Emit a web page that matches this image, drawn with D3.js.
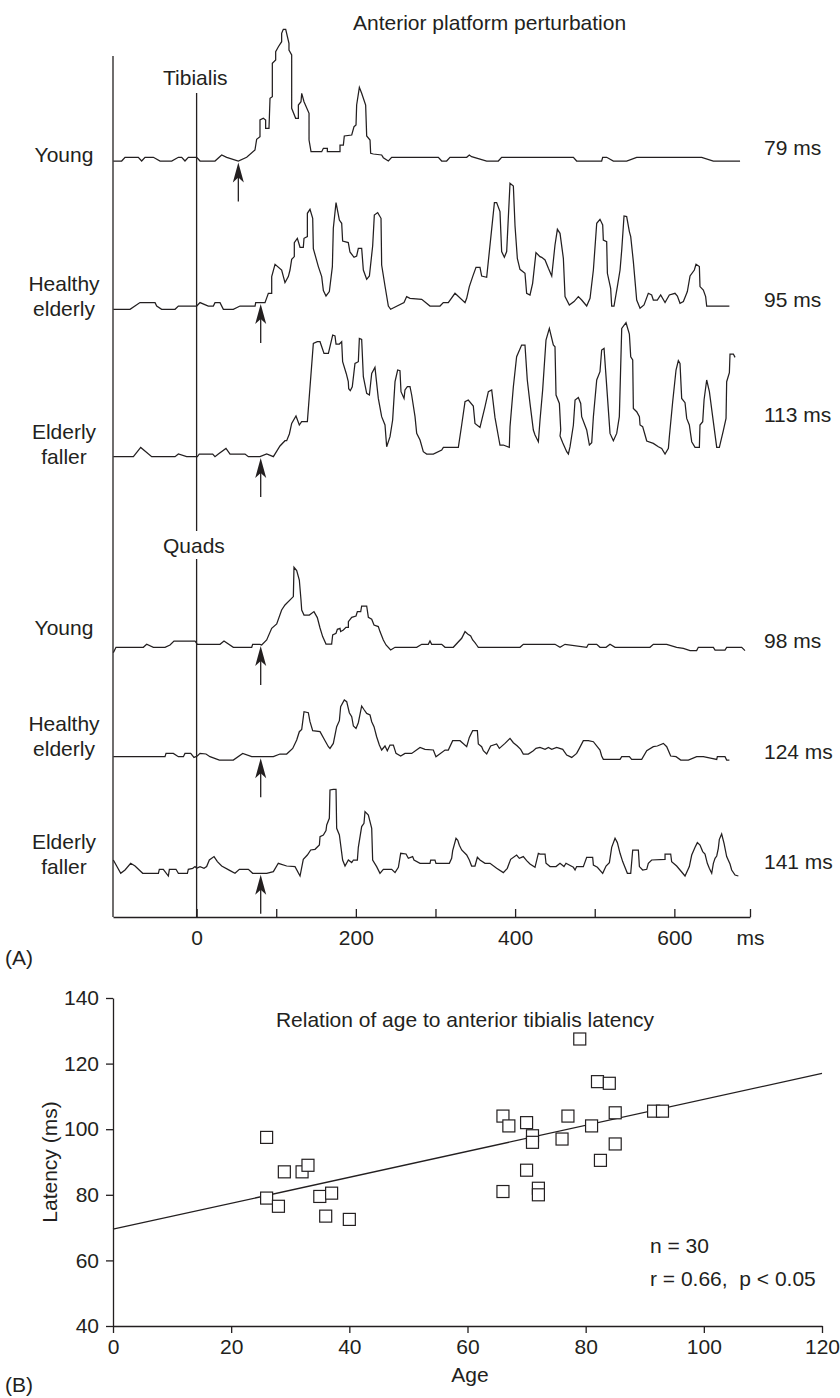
<!DOCTYPE html>
<html>
<head>
<meta charset="utf-8">
<script src="https://cdn.jsdelivr.net/npm/d3@7"></script>
<style>
  body { margin: 0; background: #fff; }
  text { font-family: "Liberation Sans", Arial, Helvetica, sans-serif; fill: #231f20; white-space: pre; }
</style>
</head>
<body>
<svg id="chart" width="840" height="1398"></svg>
<script>
// ---------- Panel A: rectified EMG after anterior platform perturbation ----------
// Each trace: [time (ms from perturbation), amplitude (arbitrary units)]
const tibYoung = [[-104.6,0],[-94.1,0],[-89.9,3.7],[-73.2,3.7],[-69.0,0],[-64.8,3.7],[-54.3,3.7],[-45.9,0],[-31.3,0],[-22.9,3.7],[-18.7,3.7],[-14.6,0],[-10.4,3.7],[0.1,3.7],[4.3,0],[23.1,0],[31.5,6],[37.8,3.7],[52.4,0],[62.9,3.7],[73.3,11],[75.4,21.7],[79.6,24.3],[79.6,41],[83.8,42.7],[86.7,41],[86.7,32.7],[90.9,32.7],[92.2,62.7],[95.1,64.3],[95.1,97.7],[99.3,101],[99.3,109.3],[102.7,114.3],[106.8,119.3],[106.8,127.7],[108.9,131.7],[111.9,131.7],[116.0,117.7],[116.0,111],[119.4,106],[119.4,52.7],[124.4,42.7],[127.8,42.7],[127.8,56],[131.1,59.3],[132.0,67.7],[134.9,59.3],[141.2,47.7],[141.2,21],[143.7,9.3],[157.1,9.3],[159.2,12.7],[164.2,12.7],[164.2,9.3],[180.1,9.3],[180.1,16],[184.3,16],[185.5,25],[194.8,26],[197.7,34.3],[200.2,36],[201.0,56],[204.4,73.7],[207.3,67.7],[212.3,56],[213.6,25],[217.8,21],[218.6,7.7],[222.0,7],[232.4,6],[234.5,3.3],[240.8,0],[245.0,3.7],[303.6,3.7],[307.8,0],[314.0,0],[318.2,3.7],[339.2,3.7],[342.5,6],[345.4,4.3],[364.3,0],[378.9,0],[383.1,3.7],[473.2,3.7],[477.3,0],[508.7,0],[510.0,3.7],[515.0,3.7],[523.4,0],[540.1,0],[552.7,3.7],[634.3,3.7],[649.0,0],[682.5,0]];

const tibHealthy = [[-104.6,0],[-83.6,0],[-71.1,6.7],[-52.2,6.7],[-50.1,3.3],[-43.9,0],[-27.1,0],[-22.9,3.3],[0.1,3.3],[4.3,6.7],[14.7,3.3],[21.0,3.3],[23.1,6.7],[29.4,6.7],[33.6,0],[46.1,0],[54.5,3.3],[73.4,3.3],[74.2,6.7],[85.9,6.7],[90.1,16],[94.3,16],[94.3,32.7],[98.5,45],[106.8,39.3],[111.0,26.7],[115.2,32.7],[117.3,39.3],[119.4,50],[122.7,52.7],[122.7,66.7],[126.5,71],[129.9,62],[134.0,62],[134.9,71],[139.1,72.7],[139.1,96],[142.4,100],[145.8,91],[146.6,60.7],[152.9,42.7],[157.1,32.7],[159.2,18.7],[162.5,13.3],[166.7,17.7],[170.5,42.7],[171.7,81],[175.1,106.7],[179.3,89.3],[182.2,86],[183.4,68.3],[190.5,66.7],[192.6,57.3],[197.7,52],[201.0,53.3],[203.1,61],[207.3,61],[209.4,39.3],[213.6,30],[217.0,33.3],[221.1,63.3],[223.2,94.3],[227.4,96.7],[231.6,91],[232.4,44.3],[236.6,23.3],[240.8,3.3],[243.7,0],[260.5,6.7],[263.8,12.7],[268.0,11],[282.7,10],[293.1,3.3],[305.7,3.3],[309.8,6.7],[316.1,6.7],[324.5,16],[337.1,6.7],[339.2,11],[342.5,22.7],[346.7,32.7],[350.9,42],[355.9,42],[358.0,33.3],[364.3,32],[374.0,106.7],[376.8,106.7],[381.0,97.7],[383.1,57.7],[386.5,52],[389.4,57.7],[393.6,126],[397.8,123.3],[399.9,83.3],[402.8,51],[406.1,40],[412.4,36],[414.5,16],[418.7,14.3],[422.0,26],[426.2,56.7],[431.2,52.7],[433.4,52],[437.6,49.3],[441.8,41],[446.0,33.3],[450.1,64.3],[453.1,80],[456.4,76],[460.6,51],[462.7,12.7],[468.1,4.3],[474.0,7.7],[479.4,12.7],[483.6,9.3],[489.9,3.3],[494.1,11],[498.3,39.3],[502.5,86],[506.6,90],[510.0,84.3],[510.8,69.3],[515.0,67.7],[515.9,36],[520.0,21],[521.3,3.3],[524.2,3.3],[528.4,22.7],[531.8,39.3],[533.9,59.3],[536.8,93.3],[540.1,92.7],[543.5,77.7],[545.2,72.7],[548.5,47.7],[552.7,9.3],[556.9,1],[561.9,4.3],[567.3,16],[571.5,14.3],[573.6,9.3],[578.6,9.3],[582.8,14.3],[588.3,6.7],[593.7,14.3],[600.8,16],[603.8,13.3],[607.1,6],[611.3,7.7],[614.6,14.3],[616.3,17.7],[619.7,33.3],[625.1,39.3],[627.2,45],[631.4,42.7],[632.2,22.7],[636.4,19.3],[639.3,12.7],[640.6,3.3],[669.1,3.3]];

const tibFaller = [[-104.6,0],[-79.4,0],[-70.2,9.3],[-56.4,0],[-27.1,0],[-22.9,2.7],[-12.5,0],[0.9,0],[3.4,2.7],[20.2,2.7],[23.1,0],[27.3,2.7],[36.9,8.3],[42.0,2.7],[60.8,2.7],[65.0,0],[79.6,0],[88.0,2.7],[96.4,0],[104.7,10.7],[111.0,16],[113.1,16],[116.5,22.7],[119.4,33.3],[124.8,40.7],[129.0,31.7],[131.9,35],[139.1,35],[146.6,113.3],[151.6,115],[155.0,115],[160.0,103.3],[165.5,103.3],[170.9,121.7],[173.8,120.7],[175.1,112.7],[179.3,112.7],[182.2,115],[183.4,95],[188.0,83],[190.5,75],[191.0,68],[193.0,66],[195.5,70],[198.9,93.3],[203.1,95],[204.4,118.3],[207.3,117.3],[209.4,80],[213.6,63.3],[217.0,61.7],[219.9,83.3],[224.0,89.3],[228.2,58.3],[232.4,40],[236.6,31.7],[238.7,10],[242.9,20],[246.2,36.7],[249.2,75],[252.5,86.7],[255.4,86],[256.7,65],[260.5,58.3],[261.7,66.7],[264.7,70],[268.0,70],[270.1,61.7],[274.3,40],[276.4,23.3],[280.6,16.7],[284.7,5],[288.9,2.7],[297.3,2.7],[307.8,6.7],[309.9,9.3],[328.7,9.3],[332.9,31.7],[337.1,55],[341.2,56.7],[347.5,50.7],[349.6,33.3],[355.9,29.3],[362.2,50],[366.4,65],[370.6,66.7],[374.7,39.3],[378.9,20.7],[381.0,11.7],[385.2,11.7],[392.7,9.3],[393.6,30],[397.8,70],[401.9,100],[408.2,111.7],[412.4,111.7],[415.3,76.7],[418.7,53.3],[422.9,26.7],[425.0,21.7],[429.2,15],[431.3,36.7],[434.6,66.7],[438.8,116.7],[443.0,128.3],[448.0,111.7],[450.1,110],[451.4,61.7],[455.6,53.3],[457.3,26.7],[456.4,20.7],[459.8,14],[464.8,5],[466.9,2.7],[469.0,10],[473.2,31.7],[475.3,56.7],[479.4,59.3],[482.4,53.3],[483.6,40],[489.9,26.7],[493.3,11.7],[496.2,14],[498.3,40],[502.5,76.7],[506.6,85],[508.7,106.7],[511.7,108.3],[519.2,23.3],[523.4,16],[527.6,23.3],[530.9,40],[533.9,128.3],[539.3,134],[543.5,122.7],[545.2,100],[547.7,96.7],[548.5,48.3],[552.7,45],[556.1,40],[556.9,31.7],[560.2,30],[563.2,21.7],[565.3,15.7],[573.6,13.3],[579.9,10],[584.1,8.3],[588.3,2.7],[592.5,8.3],[593.7,20],[597.9,55],[602.1,86.7],[605.0,96],[607.1,93.3],[609.2,58.3],[613.4,54],[615.5,38.3],[618.8,31.7],[621.8,15],[626.0,9.3],[631.4,9.3],[632.2,31.7],[635.6,35],[637.3,56.7],[640.6,76.7],[644.0,65],[648.1,40],[653.2,9.3],[656.5,9.3],[661.5,26],[664.9,38.3],[665.7,75],[669.1,84],[669.9,102.7],[674.1,102.7],[676.2,99.3]];

const quadYoung = [[-104.6,-5.3],[-101.2,0],[-66.9,0],[-62.7,3],[-54.3,0],[-39.7,0],[-33.4,2.3],[-28.4,6.3],[-2.0,6.3],[0.9,3],[29.4,3],[34.4,6.3],[46.1,0],[69.2,0],[70.4,3],[79.6,3],[81.7,2.3],[88.0,7.3],[94.3,19],[100.6,23.3],[106.8,37.3],[111.0,42.3],[121.5,50.7],[122.3,80],[125.7,76.7],[129.0,67.3],[131.1,47.3],[132.0,37.3],[134.9,32.3],[141.6,32.3],[147.4,35.7],[151.6,29.7],[155.0,19.3],[158.3,10.7],[162.5,3.3],[169.6,3.3],[170.9,12.3],[175.1,14],[176.8,18],[180.1,19],[180.9,15.7],[184.3,17.3],[187.6,20],[190.6,20],[190.6,25.7],[194.8,30],[200.2,31.3],[201.9,35.7],[206.1,35.7],[207.3,41.3],[213.6,41.3],[215.7,30],[219.9,28],[222.8,22.3],[228.2,20.7],[230.3,15.7],[234.5,7.3],[237.9,2.3],[243.7,-2.7],[249.2,0],[276.4,0],[282.7,3],[291.0,3],[293.1,6.3],[295.2,3],[307.8,3],[312.0,0],[322.4,0],[332.9,9],[337.1,15.7],[340.4,13.3],[344.2,11.3],[346.7,7.3],[349.6,4.7],[351.7,2.3],[353.8,0],[406.2,0],[410.3,3],[450.1,3],[456.4,0],[462.7,3],[489.9,0],[492.0,3],[502.5,3],[506.6,0],[514.2,0],[519.2,3],[525.5,0],[569.4,0],[573.6,3],[590.4,3],[602.9,0],[611.3,-1],[619.7,-3.3],[628.0,-3.3],[630.1,0],[649.0,0],[651.1,-2.7],[663.6,-2.7],[665.7,0],[684.6,0],[688.7,-3.3]];

const quadHealthy = [[-104.6,0],[-39.7,0],[-38.4,3.3],[-29.2,3.3],[-22.9,0],[-16.6,0],[-14.6,3.3],[-7.4,3.3],[-3.3,-0.7],[0.9,0.7],[4.3,3.3],[11.8,2.7],[16.8,0],[28.6,-3.3],[46.1,-3.3],[57.9,3.3],[69.2,0],[96.4,0],[104.7,2.7],[113.1,2.7],[120.7,8.3],[125.7,16.7],[129.0,25],[132.0,27.3],[134.9,45],[140.3,44],[142.4,35],[145.8,26],[155.0,25],[161.3,16],[165.5,10],[167.5,8.3],[171.7,13.3],[175.9,30],[179.3,36],[180.9,50],[185.5,56.7],[188.5,55],[191.8,44],[194.8,40],[196.9,30.7],[200.2,28.3],[203.1,34],[207.3,50.7],[210.6,46.7],[213.6,43.3],[217.8,41.7],[219.9,35],[222.8,30],[226.1,20],[229.5,11.7],[232.4,6.7],[236.6,10.7],[239.5,6],[242.9,11.7],[247.1,11.7],[250.4,3.3],[256.3,0.7],[261.7,3.3],[270.1,3.3],[280.6,9.3],[286.8,7.3],[297.3,6.7],[300.6,0],[312.0,6.7],[316.1,6.7],[321.6,16],[330.8,16],[339.2,10],[342.5,19.3],[346.7,26],[352.6,26],[353.8,12.7],[358.0,10],[360.1,6],[364.3,2.7],[369.3,10.7],[376.8,12.7],[380.2,8.3],[387.3,13.3],[393.6,18.3],[397.8,14],[402.8,10.7],[407.0,7.3],[410.3,2.7],[416.6,2.7],[422.9,6],[426.2,8.3],[431.2,9.3],[437.6,7.3],[441.8,9.3],[446.0,7.3],[452.2,9.3],[459.8,7.3],[464.8,1.7],[471.1,-0.7],[477.3,3.3],[480.7,8.3],[485.7,16],[492.0,16],[498.3,15],[506.6,6.7],[508.7,0.7],[510.8,-2.7],[531.8,-2.7],[533.9,0],[543.5,0],[546.4,-2.7],[559.0,-2.7],[565.3,6],[573.6,10],[578.6,10.7],[586.2,13.3],[590.4,10],[595.4,0.7],[602.1,0],[608.0,-3.3],[617.6,-3.3],[628.0,0],[636.4,0],[646.9,-1.7],[653.2,-2.7],[654.0,0],[663.6,0],[665.7,-3.3],[669.1,-3.3]];

const quadFaller = [[-104.6,13.3],[-100.4,7.3],[-95.3,0],[-89.9,3.3],[-82.8,10],[-77.3,7.3],[-67.7,0],[-48.0,0],[-46.8,4],[-41.8,4],[-35.5,-2.7],[-34.2,4],[-25.9,4],[-22.9,0],[-11.6,0],[-10.4,4],[-4.9,5],[-2.0,6.7],[0.1,5],[4.3,6.7],[9.3,5],[12.6,6.7],[16.0,13.3],[21.9,16.7],[26.1,11.7],[31.5,7.3],[42.0,2.7],[48.2,0],[53.7,4],[65.0,4],[70.4,0],[88.0,0],[96.4,1.7],[102.6,10],[113.1,7.3],[123.6,6.7],[129.9,-2.7],[134.0,14],[139.1,18.3],[143.3,23.3],[148.7,24],[154.2,28.3],[155.0,36.7],[159.2,38.3],[162.5,42.7],[163.4,48.3],[166.7,55],[167.5,83.3],[171.7,84],[175.1,84],[175.9,45],[179.3,38.3],[183.4,13.3],[186.4,7.3],[190.6,13.3],[194.8,10.7],[196.9,13.3],[201.9,13.3],[203.1,26],[207.3,46.7],[210.2,50],[211.5,61.7],[215.7,58.3],[219.9,45],[221.1,13.3],[226.1,6.7],[230.3,0],[234.5,4],[245.0,4],[249.2,0.7],[253.4,6],[256.3,20],[263.0,19.3],[265.9,15],[271.3,16.7],[273.0,13.3],[280.6,10],[293.1,10],[294.0,13.3],[299.4,13.3],[300.6,10],[317.4,10],[320.3,15],[321.6,22.7],[325.8,35],[328.0,33],[330.0,28],[332.9,23.3],[339.2,18.3],[342.5,13.3],[345.4,7.3],[349.6,7.3],[352.6,16],[355.9,13.3],[362.2,10],[368.5,10],[376.8,5],[385.2,0.7],[390.2,5],[394.4,14],[401.9,18.3],[405.3,15],[410.3,16.7],[414.5,12.7],[418.7,9.3],[425.0,6],[429.2,20],[431.3,19.3],[437.6,19.3],[438.8,10],[443.9,6.7],[451.4,6.7],[456.4,10],[461.4,6.7],[463.9,10],[473.2,6],[475.3,3.3],[477.3,6.7],[485.7,6.7],[489.9,16],[497.4,16],[498.3,8.3],[503.3,6],[510.0,0],[514.2,7.3],[518.4,10.7],[521.3,26],[525.5,35],[528.4,30.7],[531.8,20],[535.1,11.7],[541.0,0],[545.2,0],[547.7,23.3],[554.8,23.3],[556.1,6.7],[560.2,3.3],[565.3,4],[567.3,10],[571.5,13.3],[588.3,14],[588.3,19.3],[595.4,19.3],[596.6,11.7],[602.9,7.3],[607.1,3.3],[613.4,-2.7],[618.8,6.7],[621.8,18.3],[626.0,26],[628.9,30.7],[632.2,28.3],[635.6,21.7],[638.5,19.3],[641.4,10],[643.9,5],[646.9,0],[649.0,10],[651.1,15],[653.2,17.3],[655.2,25],[656.5,34],[659.4,39.3],[662.4,30],[665.7,16.7],[669.9,9.3],[672.0,3.3],[676.2,-1.7],[680.4,-2.7]];

const traceSeries = [tibYoung, tibHealthy, tibFaller, quadYoung, quadHealthy, quadFaller];
const groupNames = [["Young"], ["Healthy", "elderly"], ["Elderly", "faller"], ["Young"], ["Healthy", "elderly"], ["Elderly", "faller"]];
const onsetMs = [52.4, 80.5, 80.5, 80.5, 80.5, 80.5];
const latencyLabels = ["79 ms", "95 ms", "113 ms", "98 ms", "124 ms", "141 ms"];
const muscleNames = ["Tibialis", "Quads"];
const timeTicks = [0, 100, 200, 300, 400, 500, 600, 695];
const timeTickLabels = { 0: "0", 200: "200", 400: "400", 600: "600", 695: "ms" };

// ---------- Panel B: age vs anterior tibialis latency ----------
const ages      = [26, 26, 28, 29, 32, 33, 35, 36, 37, 40, 66, 66, 67, 70, 70, 71, 71, 72, 72, 76, 77, 79, 81, 82, 82.5, 84, 85, 85, 91.5, 93];
const latencies = [97.5, 79, 76.5, 87, 87, 89, 79.5, 73.5, 80.5, 72.5, 104, 81, 101, 87.5, 102, 98, 96, 82, 80, 97, 104, 127.5, 101, 114.5, 90.5, 114, 105, 95.5, 105.5, 105.5];
const fitIntercept = 69.5;
const fitSlope = 0.396;
const ageTicks = [0, 20, 40, 60, 80, 100, 120];
const latencyTicks = [40, 60, 80, 100, 120, 140];
const statLines = ["n = 30", "r = 0.66,  p < 0.05"];

// ---------- drawing ----------
const ink = "#231f20";
const FS = 21;
const svg = d3.select("#chart");

function label(x, yc, str, anchor) {
  return svg.append("text")
    .attr("x", x).attr("y", yc + FS * 0.35)
    .attr("text-anchor", anchor || "start")
    .attr("font-size", FS)
    .text(str);
}

// layout of panel A
const A = {
  left: 113, right: 750, axisY: 917, top: 56,
  base: [161, 309.3, 456.7, 647.3, 756.7, 873.3],
  nameY: [[155], [284, 309], [432, 457], [628], [724, 749], [842, 867]],
  latY: [148, 300, 415, 641, 752, 862],
  muscleY: [78, 546],
  zeroSegs: [[93, 531], [559, 917]]
};

const xA = d3.scaleLinear().domain([-105, 695]).range([A.left, A.right]);

label(353, 23, "Anterior platform perturbation");

// frame lines
svg.append("line").attr("x1", A.left).attr("x2", A.left).attr("y1", A.top).attr("y2", A.axisY)
  .attr("stroke", ink).attr("stroke-width", 1.3);
A.zeroSegs.forEach(s => {
  svg.append("line").attr("x1", xA(0)).attr("x2", xA(0)).attr("y1", s[0]).attr("y2", s[1])
    .attr("stroke", ink).attr("stroke-width", 1.3);
});
muscleNames.forEach((m, i) => label(163, A.muscleY[i], m));

// time axis (ticks point up into the plot)
const axA = d3.axisBottom(xA)
  .tickValues(timeTicks)
  .tickSizeInner(-8).tickSizeOuter(0).tickPadding(13)
  .tickFormat(d => timeTickLabels[d] || "");
const gAx = svg.append("g").attr("transform", `translate(0,${A.axisY})`).call(axA);
gAx.selectAll("path,line").attr("stroke", ink).attr("stroke-width", 1.3);
gAx.selectAll("text").attr("font-size", FS).attr("font-family", null).attr("fill", ink);

function valueAt(data, t) {
  for (let k = 1; k < data.length; k++) {
    const a = data[k - 1], b = data[k];
    if ((a[0] <= t && b[0] >= t) && b[0] !== a[0]) {
      return a[1] + (b[1] - a[1]) * (t - a[0]) / (b[0] - a[0]);
    }
  }
  return 0;
}

traceSeries.forEach((data, i) => {
  const base = A.base[i];
  const y = d3.scaleLinear().domain([0, 100]).range([base, base - 100]);
  const line = d3.line().x(d => xA(d[0])).y(d => y(d[1]));
  svg.append("path").attr("d", line(data))
    .attr("fill", "none").attr("stroke", ink).attr("stroke-width", 1.25)
    .attr("stroke-linejoin", "miter");

  // onset arrow
  const ax = xA(onsetMs[i]);
  const tip = y(valueAt(data, onsetMs[i])) + 1.5;
  svg.append("line").attr("x1", ax).attr("x2", ax).attr("y1", tip + 12).attr("y2", tip + 39)
    .attr("stroke", ink).attr("stroke-width", 1.3);
  svg.append("path")
    .attr("d", `M${ax},${tip} L${ax - 5.5},${tip + 20} L${ax},${tip + 15} L${ax + 5.5},${tip + 20} Z`)
    .attr("fill", ink);

  // group name and latency
  groupNames[i].forEach((nm, j) => label(64, A.nameY[i][j], nm, "middle"));
  label(764, A.latY[i], latencyLabels[i]);
});

label(5, 958, "(A)");

// ---------- panel B ----------
const B = { left: 113, right: 822, top: 998, bottom: 1326 };
const xB = d3.scaleLinear().domain([0, 120]).range([B.left, B.right]);
const yB = d3.scaleLinear().domain([40, 140]).range([B.bottom, B.top]);

const axL = d3.axisLeft(yB).tickValues(latencyTicks).tickSizeInner(7).tickSizeOuter(0).tickPadding(7);
const gL = svg.append("g").attr("transform", `translate(${B.left},0)`).call(axL);
const axB = d3.axisBottom(xB).tickValues(ageTicks).tickSizeInner(7).tickSizeOuter(0).tickPadding(6);
const gB = svg.append("g").attr("transform", `translate(0,${B.bottom})`).call(axB);
[gL, gB].forEach(g => {
  g.selectAll("path,line").attr("stroke", ink).attr("stroke-width", 1.3);
  g.selectAll("text").attr("font-size", FS).attr("font-family", null).attr("fill", ink);
});

// regression line
svg.append("line")
  .attr("x1", xB(0)).attr("y1", yB(fitIntercept))
  .attr("x2", xB(120)).attr("y2", yB(fitIntercept + fitSlope * 120))
  .attr("stroke", ink).attr("stroke-width", 1.3);

// subjects
const pts = ages.map((a, i) => ({ age: a, lat: latencies[i] }));
svg.append("g").selectAll("rect").data(pts).join("rect")
  .attr("x", d => xB(d.age) - 6).attr("y", d => yB(d.lat) - 6)
  .attr("width", 12).attr("height", 12)
  .attr("fill", "#fff").attr("stroke", ink).attr("stroke-width", 1.2);

label(465, yB(133.5), "Relation of age to anterior tibialis latency", "middle");
label(650, yB(64.5), statLines[0]);
label(650, yB(54.5), statLines[1]);
svg.append("text")
  .attr("transform", `translate(${50 + FS * 0.35},${yB(90)}) rotate(-90)`)
  .attr("text-anchor", "middle").attr("font-size", FS).text("Latency (ms)");
label(470, 1375, "Age", "middle");
label(5, 1385, "(B)");
</script>
</body>
</html>
